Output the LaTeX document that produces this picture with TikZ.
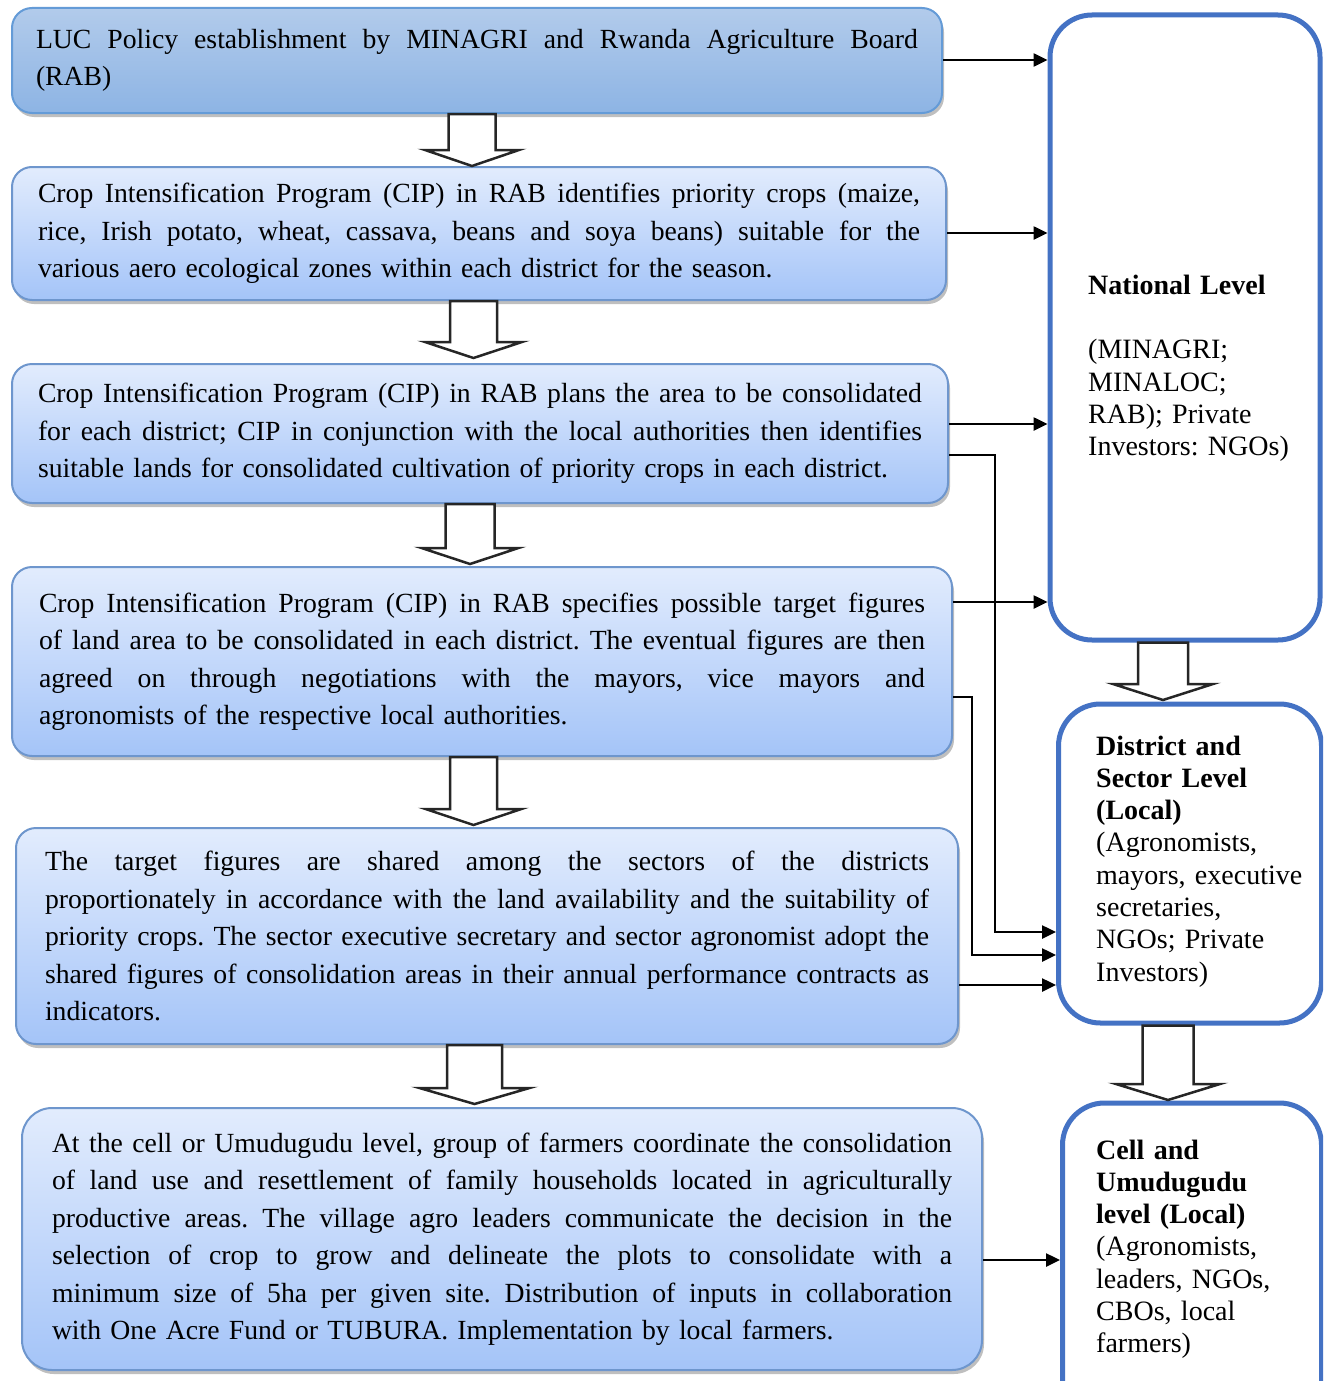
\documentclass[tikz,border=0pt]{standalone}
\usepackage{fontspec}
\setmainfont{Liberation Serif}
\usetikzlibrary{arrows.meta,shadows,calc}
\definecolor{ltop}{RGB}{226,236,253}
\definecolor{lbot}{RGB}{164,196,248}
\definecolor{ftop}{RGB}{178,203,235}
\definecolor{fbot}{RGB}{141,180,228}
\definecolor{lborder}{RGB}{110,150,205}
\definecolor{fborder}{RGB}{100,155,215}
\definecolor{rborder}{RGB}{68,114,196}
\newlength\tw
\newcommand\jl[1]{\leavevmode\hbox to \tw{\spaceskip=\fontdimen2\font plus 1fil minus \fontdimen4\font\relax #1}}
\newcommand\barrow[5]{% #1 x centre, #2 top node anchor, #3 tip node anchor, #4 shaft half width, #5 head half width
  \draw[blockarrow] let \p1=(#2), \p2=(#3), \p0=(#1,0) in
    (\x0-#4pt,\y1) -- (\x0-#4pt,\y2+16pt) -- (\x0-#5pt,\y2+16pt) -- (\x0,\y2)
    -- (\x0+#5pt,\y2+16pt) -- (\x0+#4pt,\y2+16pt) -- (\x0+#4pt,\y1) -- cycle;}
\tikzset{
  lbox/.style={draw=lborder, line width=2pt, rounded corners=20pt,
    top color=ltop, bottom color=lbot, inner ysep=0pt, align=left,
    font=\fontsize{27.7}{37.5}\selectfont\frenchspacing,
    drop shadow={shadow xshift=2pt, shadow yshift=-4pt, fill=black!25, opacity=1}},
  fbox/.style={lbox, draw=fborder, top color=ftop, bottom color=fbot},
  rbox/.style={draw=rborder, line width=5pt, rounded corners=42pt, fill=white, inner sep=0pt},
  rtext/.style={anchor=base west, align=left, inner sep=0pt, text width=225pt,
    font=\fontsize{28}{32.3}\selectfont\frenchspacing},
  blockarrow/.style={draw=black!85, line width=2.5pt, fill=white, line join=miter},
  conn/.style={draw=black, line width=2.5pt, -{Triangle[length=14pt,width=13pt]}},
}
\begin{document}
\begin{tikzpicture}[x=1pt,y=-1pt]
\useasboundingbox (0,0) rectangle (1323,1381);
\clip (0,0) rectangle (1323,1381);

% left boxes
\setlength\tw{882pt}
\node[fbox, inner xsep=24pt, text width=882pt, minimum height=105pt] (b1) at (477,60.5)
  {\jl{LUC Policy establishment by MINAGRI and Rwanda Agriculture Board}\\(RAB)};
\node[lbox, inner xsep=26pt, text width=882pt, minimum height=133pt] (b2) at (479,233.5)
  {\jl{Crop Intensification Program (CIP) in RAB identifies priority crops (maize,}\\
   \jl{rice, Irish potato, wheat, cassava, beans and soya beans) suitable for the}\\
   various aero ecological zones within each district for the season.};
\setlength\tw{884pt}
\node[lbox, inner xsep=26pt, text width=884pt, minimum height=139pt] (b3) at (480,433.5)
  {\jl{Crop Intensification Program (CIP) in RAB plans the area to be consolidated}\\
   \jl{for each district; CIP in conjunction with the local authorities then identifies}\\
   suitable lands for consolidated cultivation of priority crops in each district.};
\setlength\tw{886pt}
\node[lbox, inner xsep=27pt, text width=886pt, minimum height=189pt] (b4) at (482,661.5)
  {\jl{Crop Intensification Program (CIP) in RAB specifies possible target figures}\\
   \jl{of land area to be consolidated in each district. The eventual figures are then}\\
   \jl{agreed on through negotiations with the mayors, vice mayors and}\\
   agronomists of the respective local authorities.};
\setlength\tw{884pt}
\node[lbox, inner xsep=29pt, text width=884pt, minimum height=216pt] (b5) at (487,936)
  {\jl{The target figures are shared among the sectors of the districts}\\
   \jl{proportionately in accordance with the land availability and the suitability of}\\
   \jl{priority crops. The sector executive secretary and sector agronomist adopt the}\\
   \jl{shared figures of consolidation areas in their annual performance contracts as}\\
   indicators.};
\setlength\tw{900pt}
\node[lbox, inner xsep=30pt, text width=900pt, minimum height=262pt, rounded corners=30pt] (b6) at (502,1239)
  {\jl{At the cell or Umudugudu level, group of farmers coordinate the consolidation}\\
   \jl{of land use and resettlement of family households located in agriculturally}\\
   \jl{productive areas. The village agro leaders communicate the decision in the}\\
   \jl{selection of crop to grow and delineate the plots to consolidate with a}\\
   \jl{minimum size of 5ha per given site. Distribution of inputs in collaboration}\\
   with One Acre Fund or TUBURA. Implementation by local farmers.};

% right boxes
\node[rbox, minimum width=270pt, minimum height=625pt] (nat) at (1185,327.5) {};
\node[rbox, minimum width=263pt, minimum height=319pt] (dis) at (1190,863.5) {};
\node[rbox, minimum width=259pt, minimum height=320pt] (cel) at (1192,1263) {};

\node[rtext] (natt) at (1088,294)
  {\textbf{National Level}\\[32.5pt](MINAGRI;\\MINALOC;\\RAB); Private\\Investors: NGOs)};
\node[rtext] (dist) at (1096,755)
  {\textbf{District and}\\\textbf{Sector Level}\\\textbf{(Local)}\\(Agronomists,\\mayors, executive\\secretaries,\\NGOs; Private\\Investors)};
\node[rtext] (celt) at (1096,1159)
  {\textbf{Cell and}\\\textbf{Umudugudu}\\\textbf{level (Local)}\\(Agronomists,\\leaders, NGOs,\\CBOs, local\\farmers)};

% block arrows
\barrow{472}{472,0 |- b1.south}{472,0 |- b2.north}{23.5}{47}
\barrow{473.5}{473.5,0 |- b2.south}{473.5,358}{23.5}{48.5}
\barrow{470}{470,0 |- b3.south}{470,564}{24.5}{48.5}
\barrow{473.5}{473.5,0 |- b4.south}{473.5,825}{23.5}{48}
\barrow{474.5}{474.5,0 |- b5.south}{474.5,1104}{27.5}{55}
\barrow{1163}{1163,0 |- nat.south}{1163,700}{25}{50}
\barrow{1168}{1168,0 |- dis.south}{1168,1100}{25.5}{52}

% connectors
\draw[conn] (b1.east |- 0,60) -- (nat.west |- 0,60);
\draw[conn] (b2.east |- 0,233) -- (nat.west |- 0,233);
\draw[conn] (b3.east |- 0,424) -- (nat.west |- 0,424);
\draw[conn] (b4.east |- 0,602) -- (nat.west |- 0,602);
\draw[conn] (b3.east |- 0,455) -- (995,455) -- (995,932) -- (dis.west |- 0,932);
\draw[conn] (b4.east |- 0,697) -- (972,697) -- (972,955) -- (dis.west |- 0,955);
\draw[conn] (b5.east |- 0,985) -- (dis.west |- 0,985);
\draw[conn] (b6.east |- 0,1260) -- (cel.west |- 0,1260);
\end{tikzpicture}
\end{document}
